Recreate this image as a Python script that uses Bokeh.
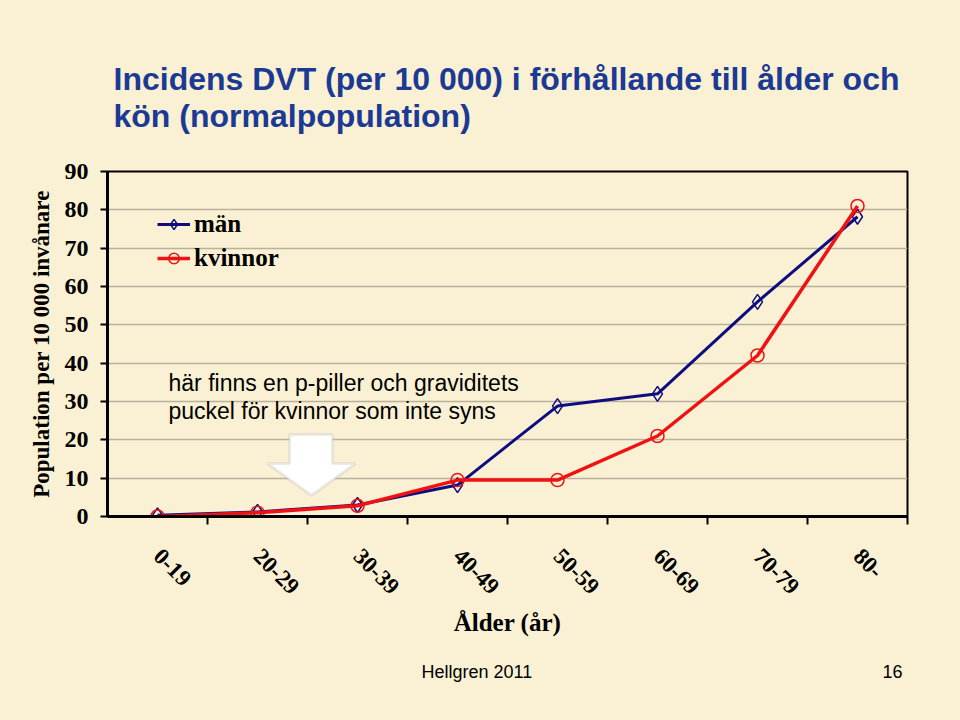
from bokeh.plotting import figure
from bokeh.models import Range1d, FixedTicker, Label, PolyAnnotation
from bokeh.layouts import column
from bokeh.embed import file_html
from bokeh.resources import INLINE

# ---- data ----
categories = ["0-19", "20-29", "30-39", "40-49", "50-59", "60-69", "70-79", "80-"]
man = [0.3, 1.2, 3.0, 8.2, 28.8, 32.0, 56.0, 78.2]
kvinnor = [0.0, 1.0, 2.8, 9.5, 9.5, 21.0, 42.0, 81.0]
y_ticks = [0, 10, 20, 30, 40, 50, 60, 70, 80, 90]

title_lines = ["Incidens DVT (per 10 000) i förhållande till ålder och",
               "kön (normalpopulation)"]
note_lines = ["här finns en p-piller och graviditets",
              "puckel för kvinnor som inte syns"]
footer_left = "Hellgren  2011"
footer_right = "16"

BG = "#FAF0D3"
SERIF = "Liberation Serif"
SANS = "Liberation Sans"
TITLE_BLUE = "#1B3A94"

x = [i + 0.5 for i in range(len(categories))]
bounds = [i + 1 for i in range(len(categories))]


def strip(height):
    """A plain strip (no axes) whose frame spans pixel x 107..907, used for text."""
    s = figure(width=960, height=height, title=None,
               x_range=Range1d(107, 907), y_range=Range1d(0, height),
               output_backend="svg", toolbar_location=None,
               x_axis_location=None, y_axis_location=None,
               min_border_left=107, min_border_right=53,
               min_border_top=0, min_border_bottom=0,
               background_fill_color=BG, background_fill_alpha=0.0,
               border_fill_color=BG, outline_line_color=None)
    s.grid.visible = False
    return s


# ---- header (title) ----
head = strip(150)
for t, yb in zip(title_lines, [72, 35]):
    head.add_layout(Label(x=113, y=yb, text=t, text_font=SANS,
                          text_font_style="bold", text_font_size="32px",
                          text_color=TITLE_BLUE, text_baseline="alphabetic",
                          text_align="left"))

# ---- main chart ----
p = figure(width=960, height=510, title=None,
           x_range=Range1d(0, len(categories)), y_range=Range1d(0, 90),
           output_backend="svg", toolbar_location=None,
           min_border_left=107, min_border_right=53,
           min_border_top=21, min_border_bottom=144,
           background_fill_color=BG, border_fill_color=BG,
           outline_line_color="black", outline_line_width=2)

p.xgrid.visible = False
p.ygrid.grid_line_color = "#B8B19D"
p.ygrid.grid_line_width = 1.5

# y axis
p.yaxis.ticker = FixedTicker(ticks=y_ticks)
p.yaxis.axis_line_width = 3
p.yaxis.axis_line_color = "black"
p.yaxis.major_tick_line_width = 2
p.yaxis.major_tick_out = 7
p.yaxis.major_tick_in = 0
p.yaxis.minor_tick_line_color = None
p.yaxis.major_label_text_font = SERIF
p.yaxis.major_label_text_font_style = "bold"
p.yaxis.major_label_text_font_size = "24px"
p.yaxis.major_label_text_color = "black"
p.yaxis.major_label_standoff = 12
p.yaxis.axis_label = "Population per 10 000 invånare"
p.yaxis.axis_label_text_font = SERIF
p.yaxis.axis_label_text_font_style = "bold"
p.yaxis.axis_label_text_font_size = "23px"
p.yaxis.axis_label_text_color = "black"
p.yaxis.axis_label_standoff = 8

# x axis
p.xaxis.ticker = FixedTicker(ticks=x, minor_ticks=bounds)
p.xaxis.major_label_overrides = {xv: c for xv, c in zip(x, categories)}
p.xaxis.axis_line_width = 3
p.xaxis.axis_line_color = "black"
p.xaxis.major_tick_line_color = None
p.xaxis.major_tick_out = 0
p.xaxis.major_tick_in = 0
p.xaxis.minor_tick_line_color = "black"
p.xaxis.minor_tick_line_width = 2
p.xaxis.minor_tick_out = 8
p.xaxis.minor_tick_in = 0
p.xaxis.major_label_orientation = -0.785398
p.xaxis.major_label_text_font = SERIF
p.xaxis.major_label_text_font_style = "bold"
p.xaxis.major_label_text_font_size = "23px"
p.xaxis.major_label_text_color = "black"
p.xaxis.major_label_standoff = 28
p.xaxis.axis_label = "Ålder (år)"
p.xaxis.axis_label_text_font = SERIF
p.xaxis.axis_label_text_font_style = "bold"
p.xaxis.axis_label_text_font_size = "25px"
p.xaxis.axis_label_text_color = "black"
p.xaxis.axis_label_standoff = 5

# arrow decoration
p.add_layout(PolyAnnotation(
    xs=[1.82, 2.25, 2.25, 2.48, 2.04, 1.60, 1.82],
    ys=[21.39, 21.39, 13.83, 13.83, 5.48, 13.83, 13.83],
    fill_color="white", fill_alpha=1.0,
    line_color="#BDBDBD", line_width=3))

# series
BLUE = "#0D0D80"
RED = "#F01212"
p.line(x, man, line_color=BLUE, line_width=3, legend_label="män")
p.scatter(x, man, marker="diamond", size=15, line_color=BLUE, fill_color=None,
          line_width=1.5, legend_label="män")
p.line(x, kvinnor, line_color=RED, line_width=3.5, legend_label="kvinnor")
p.scatter(x, kvinnor, marker="circle", size=13, line_color=RED, fill_color=None,
          line_width=1.5, legend_label="kvinnor")

lg = p.legend[0]
lg.location = (50, 244)
lg.border_line_color = None
lg.background_fill_alpha = 0
lg.label_text_font = SERIF
lg.label_text_font_style = "bold"
lg.label_text_font_size = "25px"
lg.label_text_color = "black"
lg.glyph_width = 33
lg.glyph_height = 26
lg.label_height = 26
lg.spacing = 6
lg.padding = 0
lg.margin = 0
lg.label_standoff = 4

# note
for t, yv in zip(note_lines, [34.95, 27.4]):
    p.add_layout(Label(x=0.61, y=yv, text=t,
                       text_font=SANS, text_font_size="23px", text_color="black",
                       text_baseline="alphabetic", text_align="left"))

# ---- footer ----
foot = strip(60)
foot.add_layout(Label(x=421, y=49, text=footer_left, text_font=SANS,
                      text_font_size="18px", text_color="black",
                      text_baseline="alphabetic", text_align="left"))
foot.add_layout(Label(x=902, y=49, text=footer_right, text_font=SANS,
                      text_font_size="18px", text_color="black",
                      text_baseline="alphabetic", text_align="right"))

layout = column(head, p, foot, spacing=0, styles={"background-color": BG})
open("out.html", "w").write(file_html(layout, INLINE))
